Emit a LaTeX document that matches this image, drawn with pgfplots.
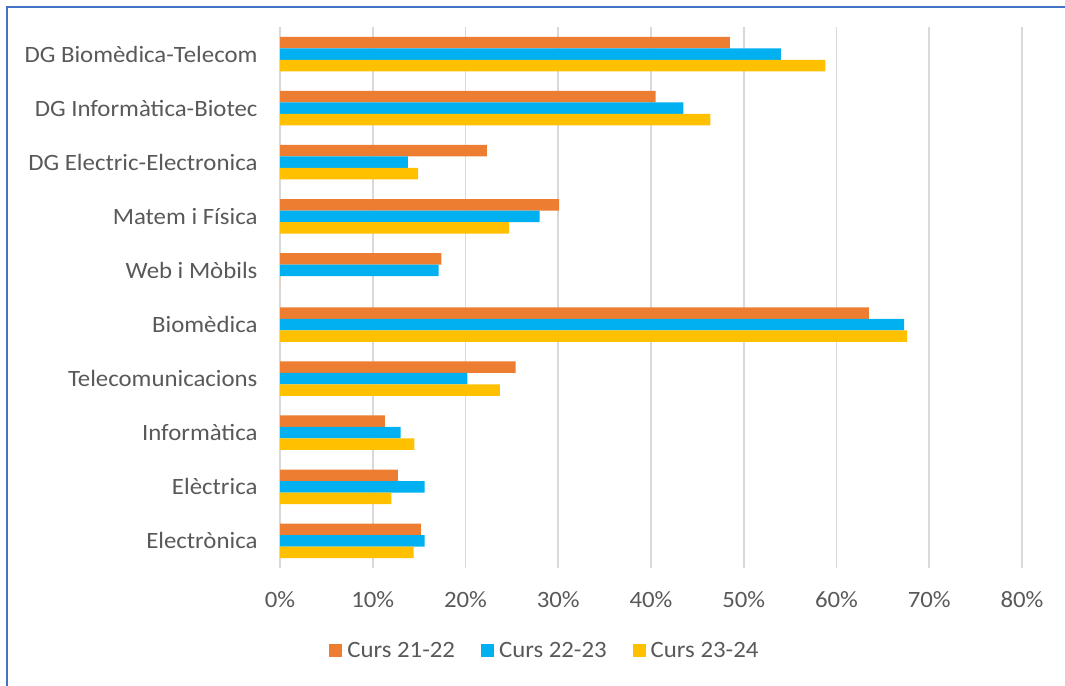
\documentclass[border=0pt]{standalone}
\usepackage{pgfplots}
\pgfplotsset{compat=1.18}
\usepackage{fontspec}
\setmainfont{Carlito}[FakeStretch=1.06]
\definecolor{cOr}{HTML}{ED7D31}
\definecolor{cBl}{HTML}{00B0F0}
\definecolor{cYe}{HTML}{FFC000}
\definecolor{cTx}{HTML}{595959}
\definecolor{cGr}{HTML}{D9D9D9}
\definecolor{cFr}{HTML}{4472C4}
\begin{document}
\begin{tikzpicture}[x=1bp,y=1bp]
\useasboundingbox (0,0) rectangle (1065,686);
\draw[cFr, line width=2.2bp] (7,0) -- (7,679) -- (1065,679);
\begin{axis}[
  at={(280bp,118bp)}, anchor=south west,
  scale only axis, width=742bp, height=541bp,
  xmin=0, xmax=80, ymin=-0.5, ymax=9.5,
  xbar, bar width=11.5bp,
  axis line style={draw=none},
  major tick length=0pt,
  xtick={0,10,...,80},
  xticklabel={\pgfmathprintnumber{\tick}\%},
  xmajorgrids, grid style={cGr, line width=1.6bp},
  ytick={0,...,9},
  yticklabels={Electrònica,Elèctrica,Informàtica,Telecomunicacions,Biomèdica,Web i Mòbils,Matem i Física,DG Electric-Electronica,DG Informàtica-Biotec,DG Biomèdica-Telecom},
  ticklabel style={font=\fontsize{23.5}{27}\selectfont, text=cTx},
  /pgf/number format/assume math mode=true,
  xticklabel style={yshift=-20bp},
  yticklabel style={xshift=-19bp},
  legend style={at={(0.357,-0.152)}, anchor=center, draw=none, legend columns=3,
    font=\fontsize{23.5}{27}\selectfont, text=cTx,
    /tikz/every even column/.append style={column sep=24bp}},
  legend image code/.code={\fill[#1] (0bp,-6.5bp) rectangle (13bp,6.5bp); \path (0bp,0bp) -- (16bp,0bp);},
]
\addplot[fill=cOr, draw=none, bar shift=11.5bp] coordinates {
(15.2,0) (12.7,1) (11.3,2) (25.4,3) (63.5,4) (17.4,5) (30.1,6) (22.3,7) (40.5,8) (48.5,9)};
\addplot[fill=cBl, draw=none, bar shift=0bp] coordinates {
(15.6,0) (15.6,1) (13.0,2) (20.2,3) (67.3,4) (17.1,5) (28.0,6) (13.8,7) (43.5,8) (54.0,9)};
\addplot[fill=cYe, draw=none, bar shift=-11.5bp] coordinates {
(14.4,0) (12.0,1) (14.5,2) (23.7,3) (67.6,4) (0,5) (24.7,6) (14.9,7) (46.4,8) (58.8,9)};
\legend{Curs 21-22, Curs 22-23, Curs 23-24}
\end{axis}
\end{tikzpicture}
\end{document}
